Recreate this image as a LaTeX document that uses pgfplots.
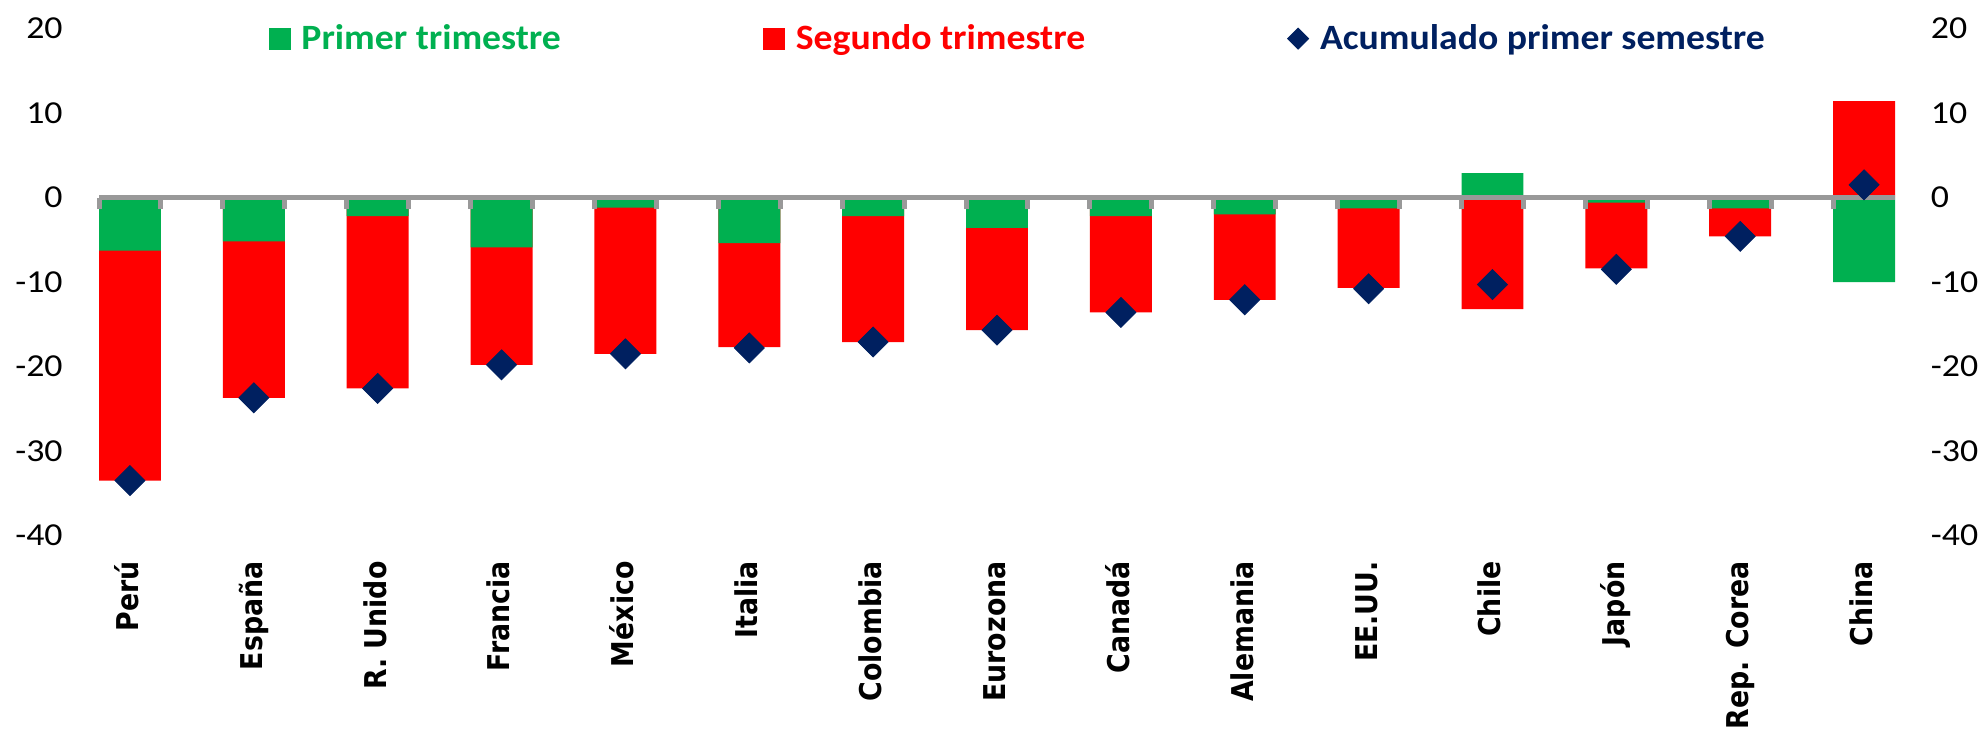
\documentclass[border=0pt]{standalone}
\usepackage{pgfplots}
\pgfplotsset{compat=1.18}
\usepackage{fontspec}
\setmainfont{Carlito}
\newfontfamily\tickfont{Carlito}[FakeStretch=1.12]
\newfontfamily\legfont{Carlito}[FakeStretch=1.06]
\newfontfamily\catfont{DejaVu Sans}
\definecolor{xgreen}{HTML}{00B050}
\definecolor{xred}{HTML}{FF0000}
\definecolor{navy}{HTML}{002060}
\definecolor{axgray}{HTML}{999999}
\begin{document}
\begin{tikzpicture}
\path[use as bounding box] (-49.5pt,-96.75pt) rectangle (943pt,267.75pt);
% main axis: bars and labels
\begin{axis}[
  at={(0pt,0pt)}, anchor=south west, scale only axis,
  width=898pt, height=253.5pt,
  xmin=-0.25, xmax=14.25, ymin=-40, ymax=20,
  axis line style={draw=none},
  major tick length=0pt, tick style={draw=none},
  xtick={0,...,14},
  xticklabels={Perú,España,R. Unido,Francia,México,Italia,Colombia,Eurozona,Canadá,Alemania,EE.UU.,Chile,Japón,Rep. Corea,China},
  xticklabel style={font=\catfont\bfseries\fontsize{13.4}{14}\selectfont, yshift=-12.75pt, xscale=1.12, rotate=90, anchor=east, inner sep=0pt, text height=0.75em, text depth=0pt},
  ytick={-40,-30,-20,-10,0,10,20},
  yticklabels={-40,-30,-20,-10,0,10,20},
  yticklabel style={font=\tickfont\fontsize{16}{18}\selectfont, anchor=east, inner sep=0pt, xshift=-18pt},
]
\addplot[ybar, bar width=0.5, bar shift=0pt, fill=xred, draw=none, forget plot] coordinates {
(0,-33.5) (1,-23.7) (2,-22.6) (3,-19.8) (4,-18.5) (5,-17.7) (6,-17.1) (7,-15.7)
(8,-13.6) (9,-12.1) (10,-10.7) (11,-13.2) (12,-8.4) (13,-4.6) (14,11.4)};
\addplot[ybar, bar width=0.5, bar shift=0pt, fill=xgreen, draw=none, forget plot] coordinates {
(0,-6.3) (1,-5.2) (2,-2.2) (3,-5.9) (4,-1.2) (5,-5.4) (6,-2.2) (7,-3.6)
(8,-2.2) (9,-2.0) (10,-1.3) (11,2.9) (12,-0.6) (13,-1.3) (14,-10.0)};
\end{axis}
% overlay axis: zero line, right labels, diamonds, legend
\begin{axis}[
  at={(0pt,0pt)}, anchor=south west, scale only axis,
  width=898pt, height=253.5pt,
  xmin=-0.25, xmax=14.25, ymin=-40, ymax=20,
  axis x line*=middle, axis y line*=right,
  x axis line style={draw=axgray, line width=2.5pt},
  y axis line style={draw=none},
  tick align=outside, major tick length=5.75pt,
  xtick={-0.25,0.25,...,14.25}, xticklabel=\empty,
  x tick style={draw=axgray, line width=2.5pt},
  y tick style={draw=none},
  ytick={-40,-30,-20,-10,0,10,20},
  yticklabels={-40,-30,-20,-10,0,10,20},
  yticklabel style={font=\tickfont\fontsize{16}{18}\selectfont, anchor=west, inner sep=0pt, xshift=12pt},
  legend columns=3,
  legend style={draw=none, fill=none, at={(0.511,0.98)}, anchor=center,
    font=\legfont\bfseries\fontsize{17.8}{20}\selectfont,
    inner sep=0pt, nodes={inner sep=0pt},
    /tikz/every odd column/.append style={column sep=5.5pt},
    /tikz/every even column/.append style={column sep=101pt}},
]
\addlegendimage{legend image code/.code={\fill[xgreen] (0pt,-5.25pt) rectangle (10.5pt,5.25pt);}}
\addlegendentry{\textcolor{xgreen}{Primer trimestre}}
\addlegendimage{legend image code/.code={\fill[xred] (0pt,-5.25pt) rectangle (10.5pt,5.25pt);}}
\addlegendentry{\textcolor{xred}{Segundo trimestre}}
\addplot[only marks, mark=square*, mark size=5.3pt, color=navy,
  mark options={rotate=45, fill=navy, draw=none},
  legend image code/.code={\fill[navy] (0pt,0pt) -- (5.25pt,5.25pt) -- (10.5pt,0pt) -- (5.25pt,-5.25pt) -- cycle;}]
 coordinates {
(0,-33.5) (1,-23.7) (2,-22.6) (3,-19.8) (4,-18.5) (5,-17.8) (6,-17.1) (7,-15.7)
(8,-13.6) (9,-12.1) (10,-10.8) (11,-10.3) (12,-8.5) (13,-4.6) (14,1.5)};
\addlegendentry{\textcolor{navy}{Acumulado primer semestre}}
\end{axis}
\end{tikzpicture}
\end{document}
